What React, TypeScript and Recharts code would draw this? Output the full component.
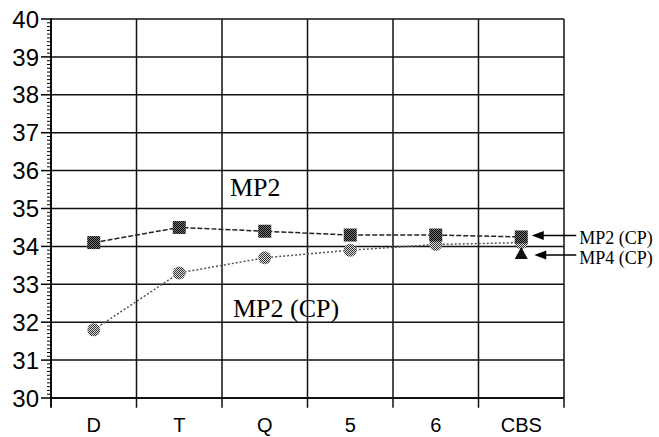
import { LineChart, Line, XAxis, YAxis, ReferenceLine, ReferenceDot, Customized } from 'recharts'

const categories = ['D', 'T', 'Q', '5', '6', 'CBS']
const mp2 = [34.1, 34.5, 34.4, 34.3, 34.3, 34.25]
const mp2cp = [31.8, 33.3, 33.7, 33.9, 34.05, 34.1]
const mp4cp = [null, null, null, null, null, 33.8]

const yMajor = [30, 31, 32, 33, 34, 35, 36, 37, 38, 39, 40]
const yTicks = Array.from({ length: 101 }, (_, i) => 30 + i / 10)
const xBounds = [0, 1, 2, 3, 4, 5, 6]
const xCenters = categories.map((_, i) => i + 0.5)

const data = categories.map((c, i) => ({
  x: i + 0.5,
  name: c,
  mp2: mp2[i],
  mp2cp: mp2cp[i],
  mp4cp: mp4cp[i],
}))

const serif = '"Liberation Serif", "Times New Roman", serif'
const sans = '"Liberation Sans", Arial, sans-serif'

// y axis: long tick + label on whole numbers, short tick every 0.1
const YTick = ({ x, y, payload }: any) => {
  const v = payload.value
  const major = Math.abs(v - Math.round(v)) < 1e-6
  return (
    <g>
      <line x1={x + (major ? 2 : 8)} x2={x + 13} y1={y} y2={y} stroke="#000" strokeWidth={major ? 1.5 : 1} />
      {major && (
        <text x={x} y={y} dy="0.36em" textAnchor="end" fontSize={24} fontFamily={sans} fill="#000">
          {Math.round(v)}
        </text>
      )}
    </g>
  )
}

const SquareDot = (p: any) => {
  if (p.cx == null || p.cy == null) return <g key={p.key} />
  return <rect key={p.key} x={p.cx - 6.5} y={p.cy - 6.5} width={13} height={13} fill="url(#checkDark)" />
}

const CircleDot = (p: any) => {
  if (p.cx == null || p.cy == null) return <g key={p.key} />
  return <circle key={p.key} cx={p.cx} cy={p.cy} r={6.5} fill="url(#checkLight)" />
}

const TriangleDot = (p: any) => {
  if (p.cx == null || p.cy == null) return <g key={p.key} />
  const { cx, cy } = p
  return <polygon key={p.key} points={`${cx},${cy - 7} ${cx + 6.5},${cy + 5} ${cx - 6.5},${cy + 5}`} fill="#111" />
}

const Arrow = ({ cx, cy, label, tip, dy, ty }: any) => (
  <g>
    <line x1={cx + tip + 10} y1={cy + dy} x2={cx + 55} y2={cy + dy} stroke="#000" strokeWidth={1.5} />
    <polygon
      points={`${cx + tip},${cy + dy} ${cx + tip + 12},${cy + dy - 4.5} ${cx + tip + 12},${cy + dy + 4.5}`}
      fill="#000"
    />
    <text x={cx + 58} y={cy + ty} fontFamily={serif} fontSize={18} fill="#000">
      {label}
    </text>
  </g>
)

const Annotations = () => (
  <g>
    <text x={230} y={196} fontFamily={serif} fontSize={26} fill="#000">MP2</text>
    <text x={233} y={317} fontFamily={serif} fontSize={26} fill="#000">MP2 (CP)</text>
  </g>
)

export default function App() {
  return (
    <div style={{ position: 'absolute', left: 0, top: 0, background: '#fff' }}>
      <LineChart width={659} height={437} data={data} margin={{ top: 19, right: 95, left: 0, bottom: 0 }}>
        <defs>
          <pattern id="checkDark" width="2" height="2" patternUnits="userSpaceOnUse">
            <rect width="2" height="2" fill="#777" />
            <rect width="1" height="1" fill="#000" />
            <rect x="1" y="1" width="1" height="1" fill="#000" />
          </pattern>
          <pattern id="checkLight" width="2" height="2" patternUnits="userSpaceOnUse">
            <rect width="2" height="2" fill="#ddd" />
            <rect width="1" height="1" fill="#333" />
            <rect x="1" y="1" width="1" height="1" fill="#333" />
          </pattern>
        </defs>
        <XAxis
          type="number"
          dataKey="x"
          domain={[0, 6]}
          ticks={xCenters}
          interval={0}
          height={39}
          tickSize={0}
          tickMargin={20}
          tickLine={false}
          axisLine={false}
          tickFormatter={(v: number) => categories[Math.floor(v)]}
          tick={{ fill: '#000', fontSize: 20, fontFamily: sans }}
        />
        <YAxis
          type="number"
          domain={[30, 40]}
          ticks={yTicks}
          interval={0}
          width={51}
          tickSize={10}
          tickMargin={2}
          tickLine={false}
          axisLine={false}
          tick={<YTick />}
        />
        {yMajor.map((v) => (
          <ReferenceLine key={'h' + v} y={v} stroke="#111" strokeWidth={v === 30 ? 2 : 1.5} />
        ))}
        {xBounds.map((v) => (
          <ReferenceLine
            key={'v' + v}
            segment={[{ x: v, y: 29.74 }, { x: v, y: 40 }]}
            ifOverflow="visible"
            stroke="#111"
            strokeWidth={v === 0 ? 2 : 1.5}
          />
        ))}
        <Line
          dataKey="mp2cp"
          stroke="#555"
          strokeWidth={1.5}
          strokeDasharray="2 2"
          dot={CircleDot}
          activeDot={false}
          isAnimationActive={false}
        />
        <Line
          dataKey="mp2"
          stroke="#222"
          strokeWidth={1.5}
          strokeDasharray="5 2"
          dot={SquareDot}
          activeDot={false}
          isAnimationActive={false}
        />
        <Line
          dataKey="mp4cp"
          stroke="none"
          dot={TriangleDot}
          activeDot={false}
          isAnimationActive={false}
        />
        <ReferenceDot
          x={xCenters[5]}
          y={mp2[5]}
          shape={(p: any) => <Arrow {...p} label="MP2 (CP)" tip={10.5} dy={-1.5} ty={7.5} />}
        />
        <ReferenceDot
          x={xCenters[5]}
          y={mp4cp[5] as number}
          shape={(p: any) => <Arrow {...p} label="MP4 (CP)" tip={13} dy={1} ty={10.5} />}
        />
        <Customized component={Annotations} />
      </LineChart>
    </div>
  )
}
